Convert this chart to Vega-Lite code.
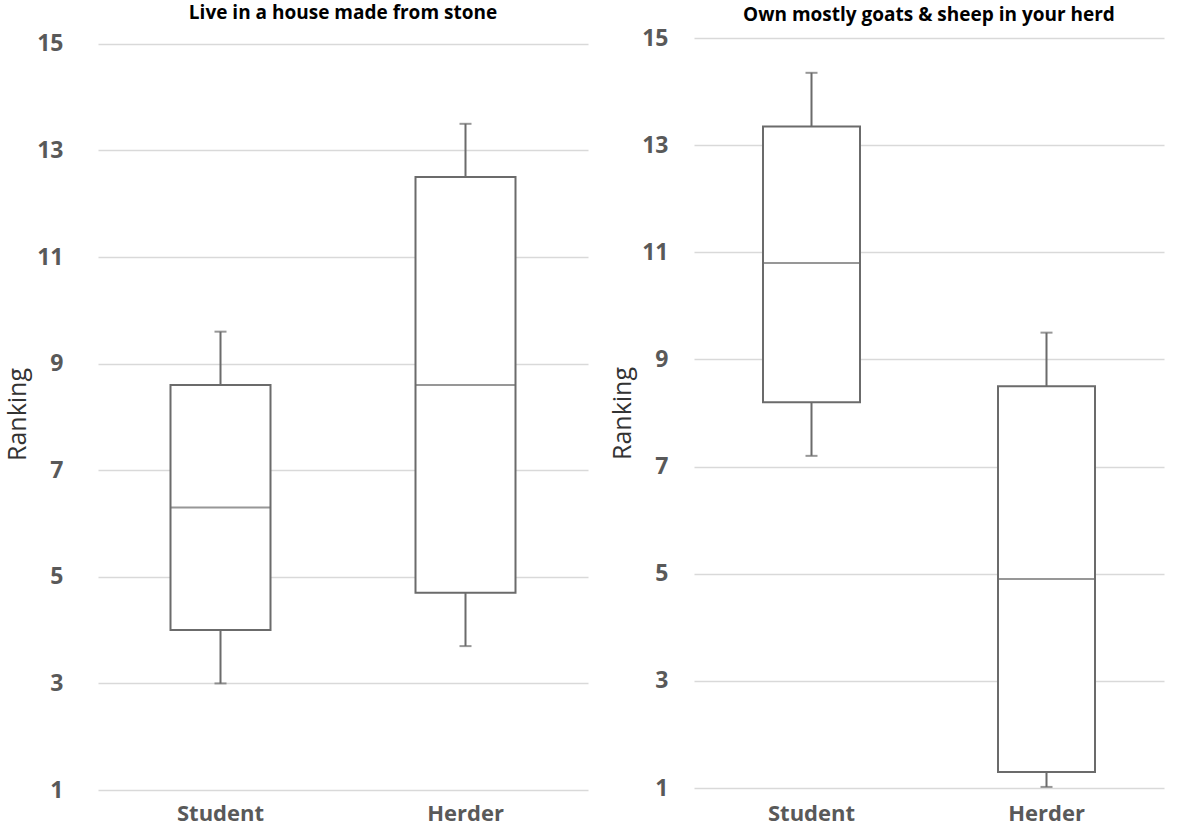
{
  "$schema": "https://vega.github.io/schema/vega-lite/v6.json",
  "padding": {"left": 5, "top": 3, "right": 2, "bottom": 0},
  "background": "white",
  "datasets": {
    "boxes": [
      {"panel": "stone", "group": "Student", "min": 3.0, "q1": 4.0, "median": 6.3, "q3": 8.6, "max": 9.6},
      {"panel": "stone", "group": "Herder", "min": 3.7, "q1": 4.7, "median": 8.6, "q3": 12.5, "max": 13.5},
      {"panel": "goats", "group": "Student", "min": 7.2, "q1": 8.2, "median": 10.8, "q3": 13.35, "max": 14.35},
      {"panel": "goats", "group": "Herder", "min": 1.02, "q1": 1.3, "median": 4.9, "q3": 8.5, "max": 9.5}
    ]
  },
  "config": {
    "view": {"stroke": null},
    "font": "Open Sans",
    "axis": {
      "labelFont": "Open Sans",
      "labelFontWeight": "bold",
      "labelFontSize": 23,
      "labelColor": "#595959",
      "domain": false,
      "ticks": false,
      "gridColor": "#d9d9d9",
      "gridWidth": 1.5,
      "titleFont": "Open Sans",
      "titleFontWeight": "normal",
      "titleFontSize": 25,
      "titleColor": "#333333"
    },
    "axisX": {"labelFontSize": 22},
    "title": {"font": "Open Sans", "fontSize": 19, "fontWeight": "bold", "color": "#000000", "anchor": "middle"}
  },
  "spacing": 22,
  "hconcat": [
    {
      "title": {"text": "Live in a house made from stone", "offset": 10},
      "width": 490,
      "height": 752,
      "data": {"name": "boxes"},
      "transform": [{"filter": "datum.panel == 'stone'"}],
      "encoding": {
        "x": {"field": "group", "type": "nominal", "sort": ["Student", "Herder"], "title": null,
          "scale": {"paddingInner": 0, "paddingOuter": 0},
          "axis": {"labelAngle": 0, "labelPadding": 13, "grid": false}}
      },
      "layer": [
        {"mark": {"type": "rule", "color": "#6b6b6b", "strokeWidth": 2},
          "encoding": {
            "y": {"field": "min", "type": "quantitative", "title": "Ranking",
              "scale": {"domain": [1, 15.11], "nice": false, "zero": false},
              "axis": {"values": [1, 3, 5, 7, 9, 11, 13, 15], "grid": true, "labelPadding": 35, "titlePadding": 6}},
            "y2": {"field": "max"}}},
        {"mark": {"type": "bar", "fill": "white", "stroke": "#6b6b6b", "strokeWidth": 2, "size": 100},
          "encoding": {"y": {"field": "q1", "type": "quantitative", "title": "Ranking"}, "y2": {"field": "q3"}}},
        {"mark": {"type": "tick", "color": "#6b6b6b", "thickness": 2, "size": 100},
          "encoding": {"y": {"field": "median", "type": "quantitative", "title": "Ranking"}}},
        {"mark": {"type": "tick", "color": "#6b6b6b", "thickness": 2, "size": 12},
          "encoding": {"y": {"field": "min", "type": "quantitative", "title": "Ranking"}}},
        {"mark": {"type": "tick", "color": "#6b6b6b", "thickness": 2, "size": 12},
          "encoding": {"y": {"field": "max", "type": "quantitative", "title": "Ranking"}}}
      ]
    },
    {
      "title": {"text": "Own mostly goats & sheep in your herd", "offset": 2},
      "width": 470,
      "height": 750,
      "data": {"name": "boxes"},
      "transform": [{"filter": "datum.panel == 'goats'"}],
      "encoding": {
        "x": {"field": "group", "type": "nominal", "sort": ["Student", "Herder"], "title": null,
          "scale": {"paddingInner": 0, "paddingOuter": 0},
          "axis": {"labelAngle": 0, "labelPadding": 15, "grid": false}}
      },
      "layer": [
        {"mark": {"type": "rule", "color": "#6b6b6b", "strokeWidth": 2},
          "encoding": {
            "y": {"field": "min", "type": "quantitative", "title": "Ranking",
              "scale": {"domain": [1, 15], "nice": false, "zero": false},
              "axis": {"values": [1, 3, 5, 7, 9, 11, 13, 15], "grid": true, "labelPadding": 26, "titlePadding": 6}},
            "y2": {"field": "max"}}},
        {"mark": {"type": "bar", "fill": "white", "stroke": "#6b6b6b", "strokeWidth": 2, "size": 97},
          "encoding": {"y": {"field": "q1", "type": "quantitative", "title": "Ranking"}, "y2": {"field": "q3"}}},
        {"mark": {"type": "tick", "color": "#6b6b6b", "thickness": 2, "size": 97},
          "encoding": {"y": {"field": "median", "type": "quantitative", "title": "Ranking"}}},
        {"mark": {"type": "tick", "color": "#6b6b6b", "thickness": 2, "size": 12},
          "encoding": {"y": {"field": "min", "type": "quantitative", "title": "Ranking"}}},
        {"mark": {"type": "tick", "color": "#6b6b6b", "thickness": 2, "size": 12},
          "encoding": {"y": {"field": "max", "type": "quantitative", "title": "Ranking"}}}
      ]
    }
  ]
}
